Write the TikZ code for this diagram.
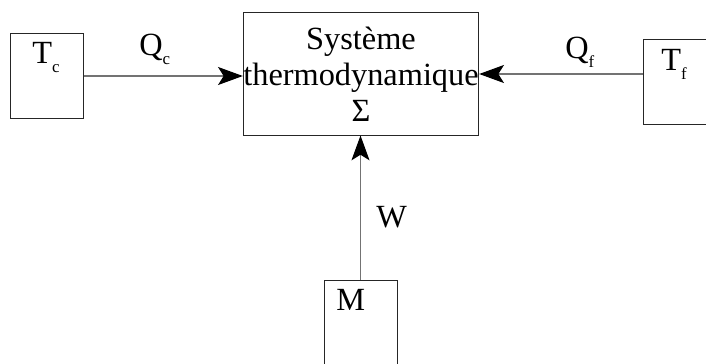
\documentclass[tikz,border=0pt]{standalone}
\usepackage{fontspec}
\setmainfont{Liberation Serif}
\usepackage{tikz}
\usetikzlibrary{arrows.meta,positioning}
\newcommand{\lowsub}[1]{\raisebox{-0.3em}{\fontsize{12}{12}\selectfont #1}}
\tikzset{
  box/.style={rectangle, draw=black!85, line width=0.7pt, inner sep=0pt,
              minimum width=1.8cm, minimum height=2.1cm},
  sysbox/.style={rectangle, draw=black!85, line width=0.7pt, inner sep=0pt,
                 minimum width=5.85cm, minimum height=3.05cm, align=center,
                 font=\fontsize{23}{25.6}\selectfont},
  flow/.style={-{Stealth[length=0.62cm,width=0.45cm,inset=0.14cm,color=black]},
               line width=0.9pt, draw=black!55},
  lbl/.style={anchor=base west, inner sep=0pt, font=\fontsize{23}{25}\selectfont},
}
\begin{document}
\begin{tikzpicture}[x=0.025cm,y=-0.025cm]
  \clip (0,0) rectangle (706,363);
  % boxes
  \node[sysbox] (sys) at (361,74) {Système\\thermodynamique\\Σ};
  \node[box] (tc) at (47,76) {};
  \node[box] (tf) at (679,82) {};
  \node[box, minimum width=1.825cm] (m) at (360.5,322) {};
  % box labels
  \node[lbl] (tclbl) at (32,63) {T\lowsub{c}};
  \node[lbl] (tflbl) at (661,70) {T\lowsub{f}};
  \node[lbl] (mlbl) at (336,310) {M};
  % heat and work
  \draw[flow] (tc.east) -- (sys.west |- tc.east);
  \draw[flow] (tf.west |- sys.east) -- (sys.east);
  \draw[flow] (m.north) -- (sys.south -| m.north);
  \node[lbl] (qc) at (139,55) {Q\lowsub{c}};
  \node[lbl] (qf) at (565,58) {Q\lowsub{f}};
  \node[lbl] (w) at (376,227) {W};
\end{tikzpicture}
\end{document}
